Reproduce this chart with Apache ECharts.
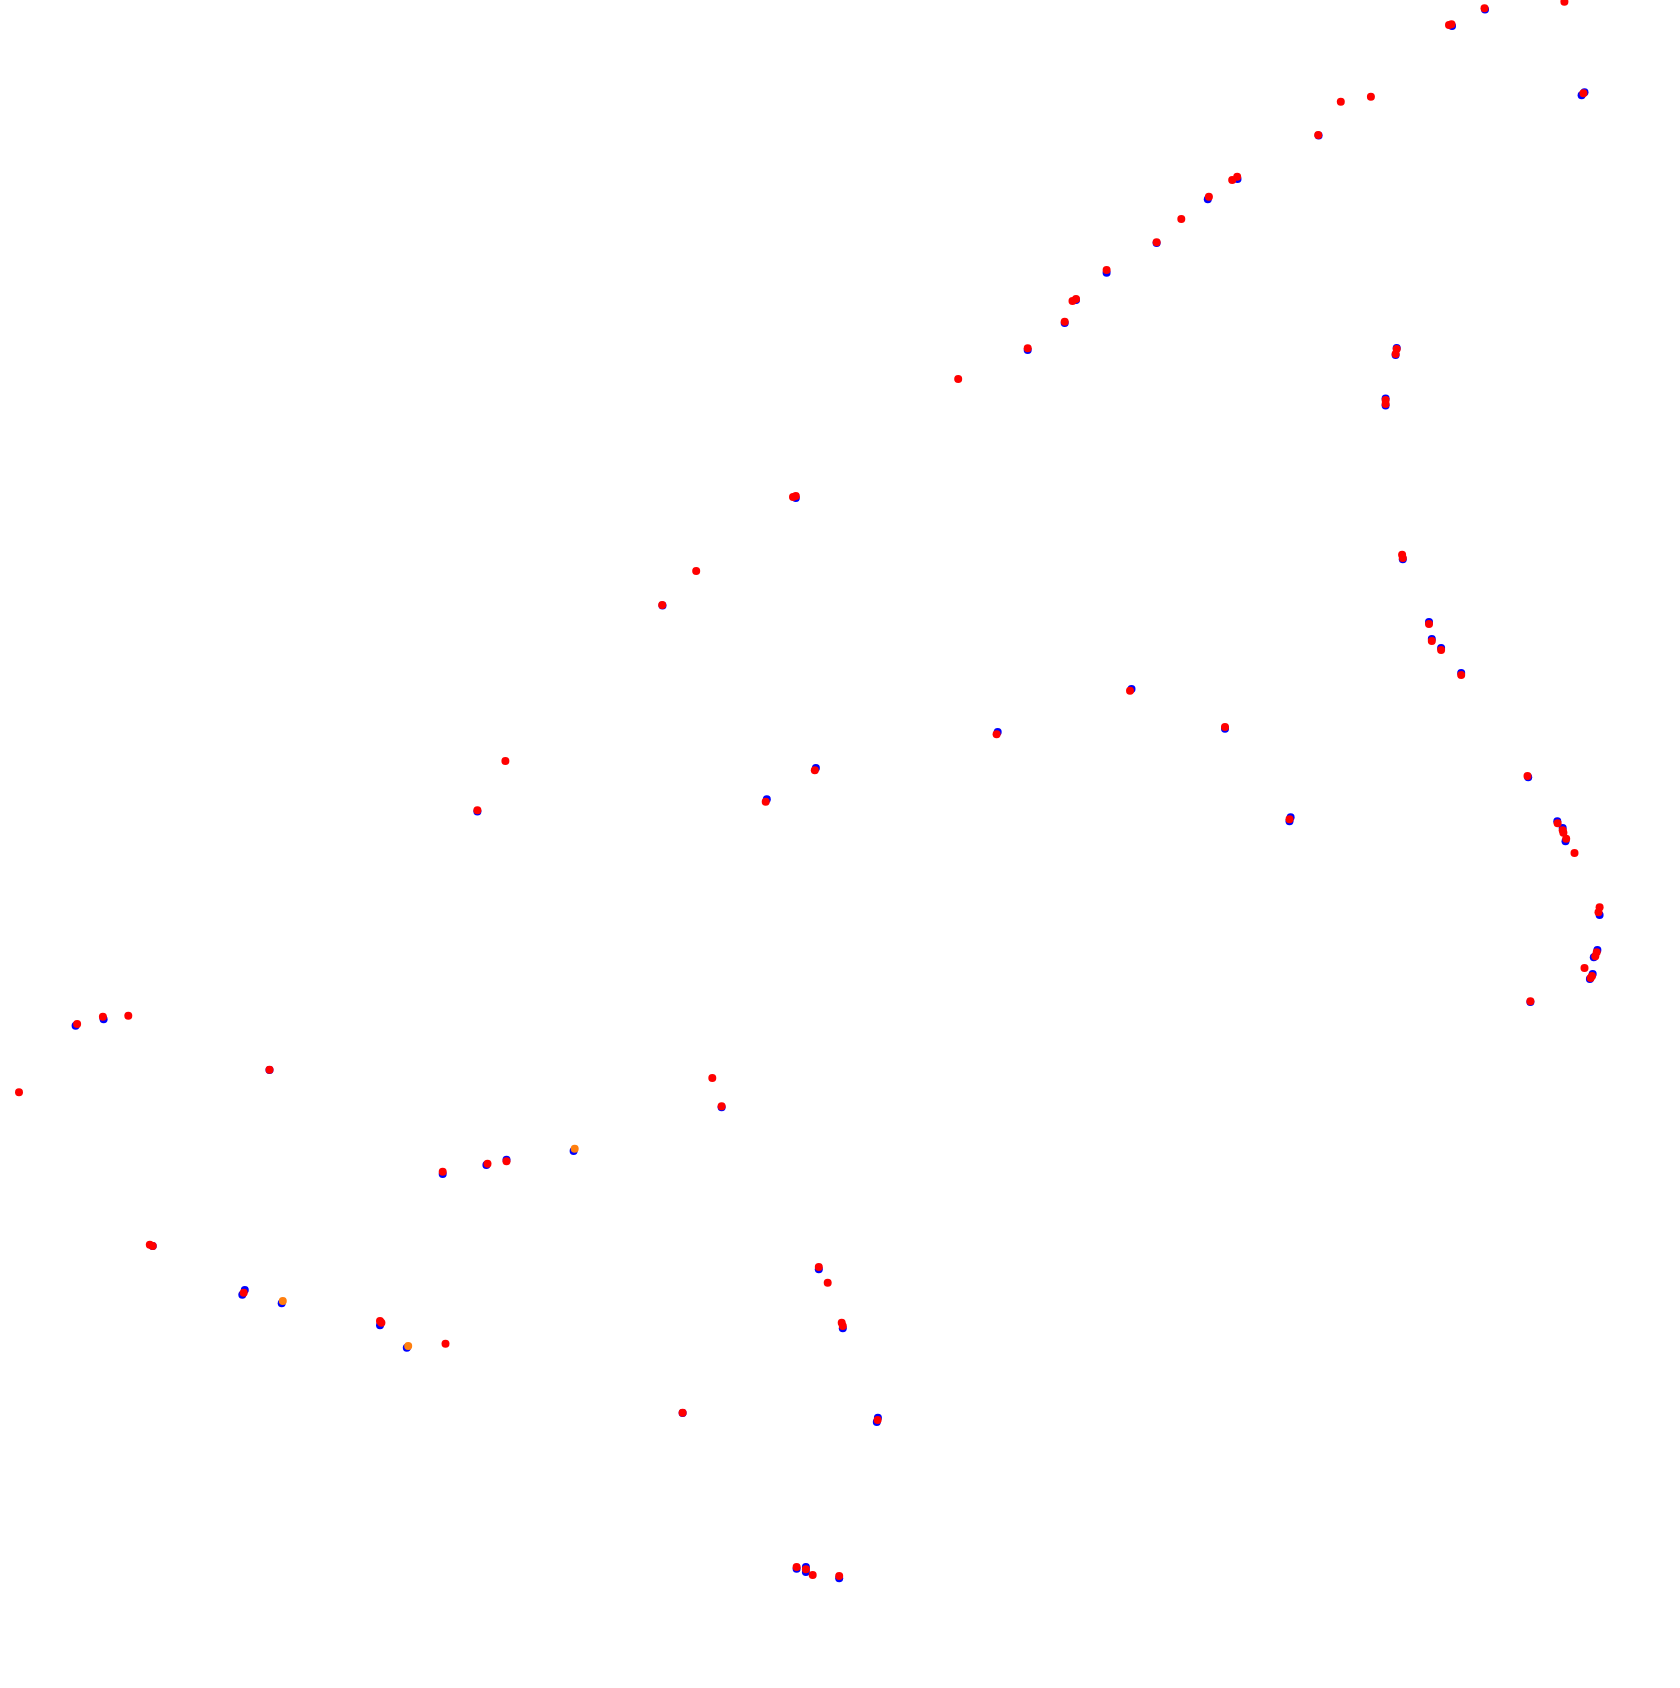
<!DOCTYPE html>
<html>
<head>
<meta charset="utf-8">
<script src="https://cdn.jsdelivr.net/npm/echarts@6/dist/echarts.min.js"></script>
<style>
html,body{margin:0;padding:0;background:#fff;}
#chart{width:1680px;height:1688px;}
</style>
</head>
<body>
<div id="chart"></div>
<script>
// Series values: [x, y] pairs
const bluePoints = [
  [148.50,167.85],[145.20,166.20],[158.45,159.57],[158.16,159.27],[131.86,155.25],
  [123.75,150.90],[120.78,148.87],[115.66,144.50],[110.66,141.53],[107.60,138.80],
  [106.47,136.50],[102.77,133.80],[139.67,134.00],[139.56,133.30],[138.56,128.95],
  [138.56,128.25],[79.58,119.00],[66.25,108.25],[140.28,112.87],[142.90,106.60],
  [143.18,104.90],[144.11,104.00],[146.12,101.50],[113.15,99.90],[122.50,95.93],
  [99.77,95.60],[81.59,92.00],[152.82,91.07],[47.74,87.65],[76.68,88.87],
  [129.06,87.07],[128.95,86.67],[155.73,86.67],[156.27,86.00],[156.55,84.67],
  [159.96,77.30],[159.74,73.80],[159.38,73.07],[159.27,71.40],[158.99,70.90],
  [153.04,68.60],[7.56,66.23],[10.36,66.87],[26.95,61.80],[72.16,58.07],
  [57.36,53.70],[44.27,51.40],[48.64,52.30],[50.65,52.83],[15.27,44.20],
  [24.48,39.80],[24.23,39.33],[28.17,38.47],[38.00,36.27],[40.68,34.03],
  [81.88,41.87],[84.28,35.97],[68.26,27.50],[87.68,26.60],[87.79,27.03],
  [79.66,11.93],[80.59,12.10],[80.59,11.60],[83.92,10.97]
];
const orangePoints = [
  [57.47,53.93],[28.28,38.70],[40.82,34.20]
];
const redPoints = [
  [156.44,168.63],[148.45,167.97],[145.15,166.37],[144.90,166.30],[158.34,159.47],
  [137.09,159.13],[134.08,158.63],[131.82,155.30],[123.72,151.13],[123.22,150.80],
  [120.89,149.13],[118.13,146.90],[115.66,144.57],[110.66,141.80],[107.60,138.90],
  [107.25,138.70],[106.47,136.63],[102.77,133.97],[95.82,130.90],[139.67,133.90],
  [139.56,133.40],[138.56,128.80],[138.56,128.40],[79.58,119.20],[79.30,119.10],
  [69.62,111.70],[66.22,108.30],[140.21,113.33],[140.28,113.00],[142.90,106.40],
  [143.18,104.70],[144.11,103.80],[146.12,101.30],[113.00,99.73],[122.50,96.10],
  [99.66,95.37],[50.54,92.70],[81.48,91.77],[152.75,91.20],[47.74,87.77],
  [76.57,88.63],[128.95,86.87],[155.76,86.47],[156.27,85.77],[156.34,85.53],
  [156.62,84.93],[157.45,83.50],[159.96,78.07],[159.85,77.57],[159.67,73.57],
  [159.53,73.17],[158.45,72.00],[159.20,71.20],[159.06,71.00],[153.04,68.67],
  [7.71,66.40],[10.29,67.13],[12.83,67.23],[1.90,59.57],[26.95,61.83],
  [71.23,61.00],[72.16,58.17],[44.27,51.63],[48.75,52.43],[50.65,52.67],
  [14.98,44.33],[15.27,44.20],[24.37,39.53],[38.14,36.53],[38.00,36.70],
  [44.55,34.43],[81.88,42.10],[82.77,40.53],[84.17,36.53],[84.28,36.20],
  [68.26,27.53],[87.76,26.80],[79.66,12.10],[80.59,11.87],[81.27,11.30],
  [83.92,11.20]
];

const chart = echarts.init(document.getElementById('chart'));
const dot = 8;
chart.setOption({
  animation: false,
  backgroundColor: '#ffffff',
  grid: { left: 0, right: 0, top: 0, bottom: 0 },
  xAxis: { type: 'value', min: 0, max: 168, show: false },
  yAxis: { type: 'value', min: 0, max: 168.8, show: false },
  series: [
    { type: 'scatter', data: bluePoints, symbolSize: dot, itemStyle: { color: '#0000ff', opacity: 1 }, z: 1 },
    { type: 'scatter', data: orangePoints, symbolSize: dot, itemStyle: { color: '#ff7f0e', opacity: 1 }, z: 2 },
    { type: 'scatter', data: redPoints, symbolSize: dot, itemStyle: { color: '#ff0000', opacity: 1 }, z: 3 }
  ]
});
</script>
</body>
</html>
